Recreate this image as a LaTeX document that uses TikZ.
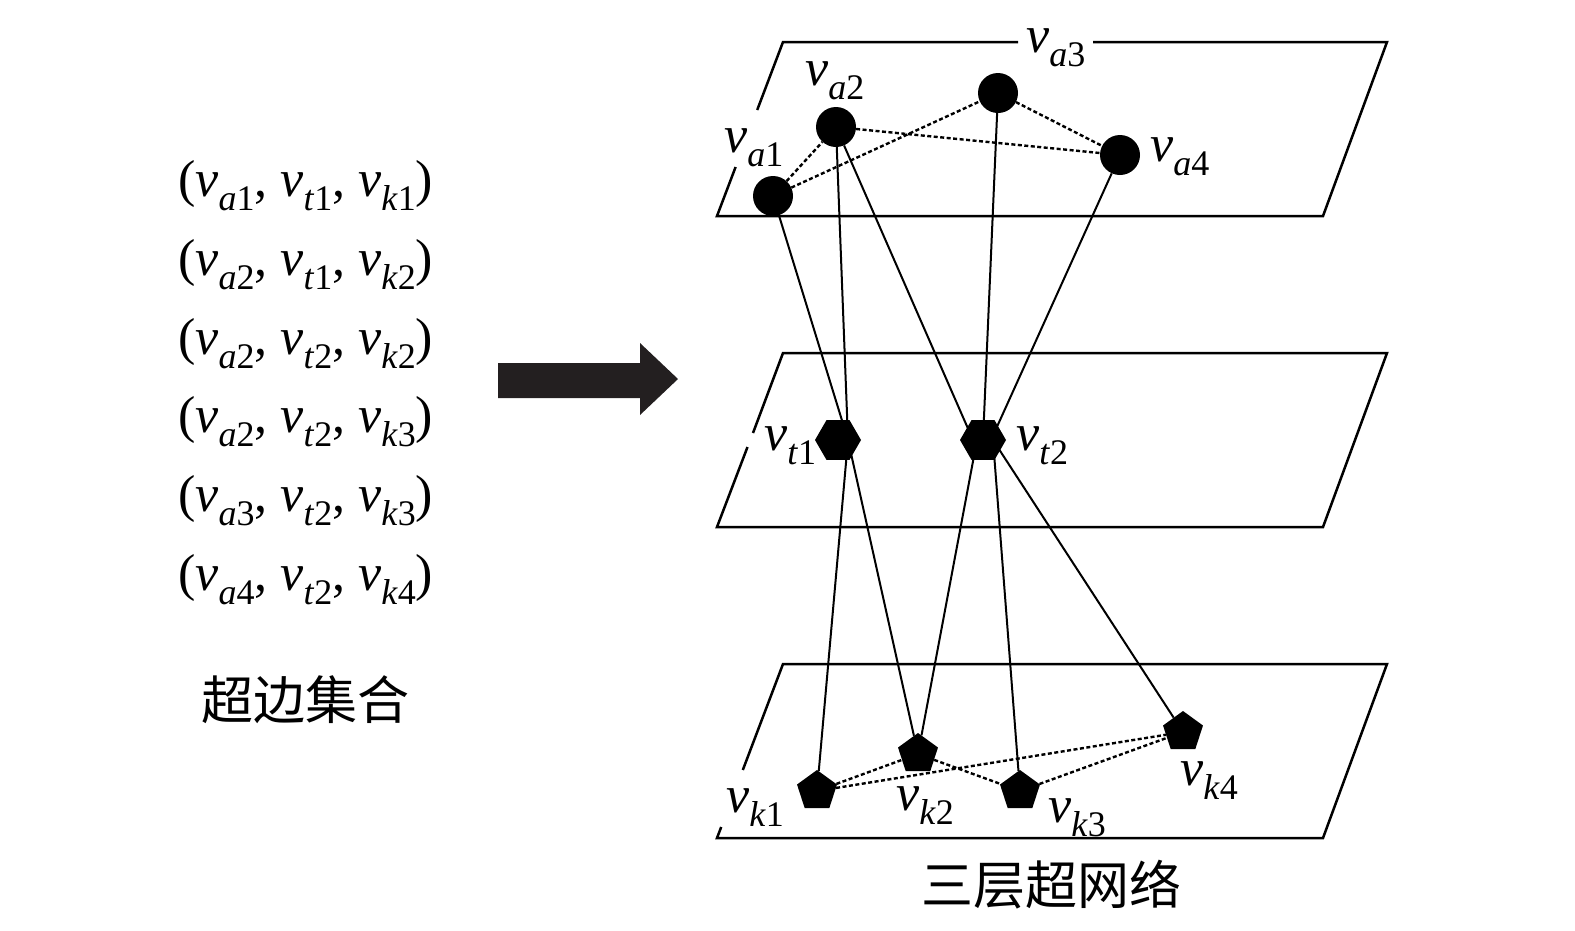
\documentclass[tikz,border=0pt]{standalone}
\usepackage{fontspec}
\setmainfont{Liberation Serif}
\newfontfamily\cjk{Noto Sans CJK SC}
\usetikzlibrary{shapes.geometric,calc}
\pgfdeclarelayer{bg}
\pgfsetlayers{bg,main}
\definecolor{arrowblack}{RGB}{35,31,32}
\newcommand\VV[2]{\textit{v}\raisebox{-0.27em}{\fontsize{36}{37}\selectfont\textit{#1}#2}}
\begin{document}
\begin{tikzpicture}[x=1pt,y=-1pt,
  plane/.style={line width=2.5pt},
  edge/.style={line width=2pt},
  dedge/.style={line width=2.4pt, dash pattern=on 4pt off 2.5pt},
  anode/.style={circle, fill=black, minimum size=40pt, inner sep=0pt},
  tnode/.style={regular polygon, regular polygon sides=6, fill=black, minimum size=46pt, inner sep=0pt},
  knode/.style={regular polygon, regular polygon sides=5, fill=black, minimum size=42pt, inner sep=0pt},
  lab/.style={font=\fontsize{52}{60}\selectfont, inner sep=0pt, anchor=base west},
  cn/.style={font=\cjk\fontsize{52}{60}\selectfont, inner sep=0pt}]
\useasboundingbox (0,0) rectangle (1575,930);

% hyperedge list
\node[lab] (h1) at (178,196) {(\VV{a}{1}, \VV{t}{1}, \VV{k}{1})};
\node[lab] (h2) at (178,275) {(\VV{a}{2}, \VV{t}{1}, \VV{k}{2})};
\node[lab] (h3) at (178,354) {(\VV{a}{2}, \VV{t}{2}, \VV{k}{2})};
\node[lab] (h4) at (178,432) {(\VV{a}{2}, \VV{t}{2}, \VV{k}{3})};
\node[lab] (h5) at (178,511) {(\VV{a}{3}, \VV{t}{2}, \VV{k}{3})};
\node[lab] (h6) at (178,590) {(\VV{a}{4}, \VV{t}{2}, \VV{k}{4})};
\node[cn] (set) at (305,700) {超边集合};
\node[cn] (net) at (1051,885) {三层超网络};

% big arrow
\fill[arrowblack] (498,363) -- (640,363) -- (640,343) -- (678,379) -- (640,415) -- (640,398) -- (498,398) -- cycle;

% nodes
\node[anode] (va1) at (773,196) {};
\node[anode] (va2) at (836,127) {};
\node[anode] (va3) at (998,93) {};
\node[anode] (va4) at (1120,155) {};
\node[tnode] (vt1) at (838,440) {};
\node[tnode] (vt2) at (983,440) {};
\node[knode] (vk1) at (817,791) {};
\node[knode] (vk2) at (918,754) {};
\node[knode] (vk3) at (1020,791) {};
\node[knode] (vk4) at (1183,732) {};

% labels
\node[lab] (la1) at (724,152) {\VV{a}{1}};
\node[lab] (la2) at (805,85) {\VV{a}{2}};
\node[lab] (la3) at (1026,52) {\VV{a}{3}};
\node[lab] (la4) at (1150,161) {\VV{a}{4}};
\node[lab] (lt1) at (764,450) {\VV{t}{1}};
\node[lab] (lt2) at (1016,450) {\VV{t}{2}};
\node[lab] (lk1) at (726,812) {\VV{k}{1}};
\node[lab] (lk2) at (896,810) {\VV{k}{2}};
\node[lab] (lk3) at (1048,822) {\VV{k}{3}};
\node[lab] (lk4) at (1180,785) {\VV{k}{4}};

\begin{pgfonlayer}{bg}
% planes
\draw[plane] (757.2,110) -- (783,42) -- (1018,42);
\draw[plane] (1093,42) -- (1387,42) -- (1323,216) -- (717,216) -- (735.6,167);
\draw[plane] (753,433) -- (783,353) -- (1387,353) -- (1323,527) -- (717,527) -- (747.5,447);
\draw[plane] (742.8,770) -- (783,664) -- (1387,664) -- (1323,838) -- (717,838) -- (721.2,827);
% dashed intra-layer links
\draw[dedge] (va1) -- (va2);
\draw[dedge] (va1) -- (va3);
\draw[dedge] (va2) -- (va4);
\draw[dedge] (va3) -- (va4);
\draw[dedge] (vk1) -- (vk2);
\draw[dedge] (vk1) -- (vk4);
\draw[dedge] (vk2) -- (vk3);
\draw[dedge] (vk3) -- (vk4);
% inter-layer links
\draw[edge] (va1) -- ($(vt1)+(10,0)$);
\draw[edge] (va2) -- ($(vt1)+(10,0)$);
\draw[edge] (va2) -- ($(vt2)+(-10,0)$);
\draw[edge] (va3) -- (vt2);
\draw[edge] (va4) -- ($(vt2)+(8,0)$);
\draw[edge] ($(vt1)+(10,0)$) -- (vk1);
\draw[edge] ($(vt1)+(10,0)$) -- (vk2);
\draw[edge] ($(vt2)+(-6,0)$) -- (vk2);
\draw[edge] ($(vt2)+(10,0)$) -- (vk3);
\draw[edge] ($(vt2)+(10,0)$) -- (vk4);
\end{pgfonlayer}
\end{tikzpicture}
\end{document}
